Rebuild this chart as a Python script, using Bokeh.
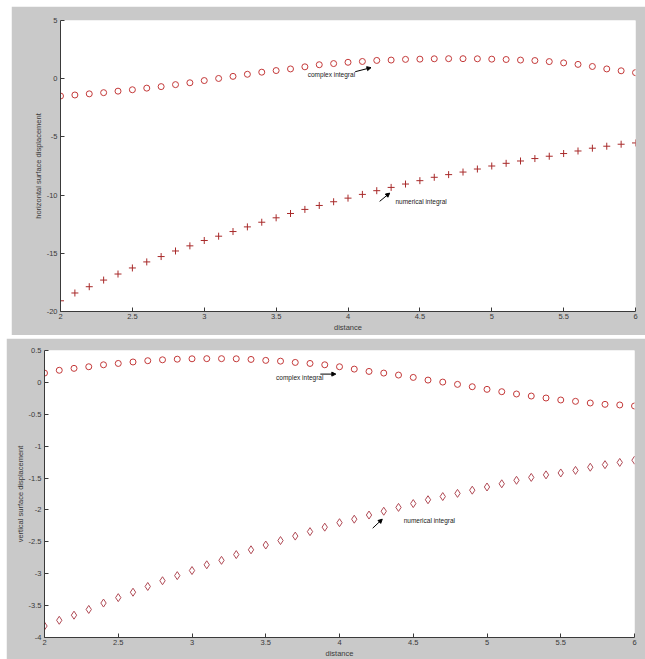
from bokeh.plotting import figure
from bokeh.models import Range1d, FixedTicker, Label, Arrow, NormalHead
from bokeh.embed import file_html
from bokeh.resources import INLINE

# ---------------- data ----------------
distance = [2.0, 2.1, 2.2, 2.3, 2.4, 2.5, 2.6, 2.7, 2.8, 2.9,
            3.0, 3.1, 3.2, 3.3, 3.4, 3.5, 3.6, 3.7, 3.8, 3.9,
            4.0, 4.1, 4.2, 4.3, 4.4, 4.5, 4.6, 4.7, 4.8, 4.9,
            5.0, 5.1, 5.2, 5.3, 5.4, 5.5, 5.6, 5.7, 5.8, 5.9, 6.0]

horiz_complex = [-1.49, -1.40, -1.30, -1.20, -1.07, -0.95, -0.81, -0.68, -0.51, -0.35,
                 -0.16, 0.02, 0.20, 0.38, 0.56, 0.70, 0.84, 1.02, 1.20, 1.30,
                 1.41, 1.48, 1.57, 1.60, 1.66, 1.68, 1.71, 1.72, 1.72, 1.71,
                 1.68, 1.65, 1.60, 1.56, 1.47, 1.36, 1.23, 1.05, 0.84, 0.68, 0.52]

horiz_numerical = [-19.08, -18.41, -17.87, -17.30, -16.78, -16.26, -15.74, -15.28, -14.80, -14.36,
                   -13.90, -13.53, -13.13, -12.73, -12.33, -11.95, -11.58, -11.23, -10.89, -10.57,
                   -10.26, -9.94, -9.62, -9.34, -9.05, -8.76, -8.47, -8.24, -8.02, -7.76,
                   -7.50, -7.27, -7.07, -6.86, -6.66, -6.43, -6.21, -5.97, -5.80, -5.63, -5.52]

vert_complex = [0.146, 0.190, 0.220, 0.245, 0.276, 0.297, 0.320, 0.340, 0.354, 0.364,
                0.370, 0.372, 0.372, 0.370, 0.360, 0.345, 0.333, 0.313, 0.297, 0.276,
                0.245, 0.208, 0.172, 0.146, 0.115, 0.078, 0.036, 0.005, -0.031, -0.068,
                -0.109, -0.146, -0.182, -0.214, -0.245, -0.276, -0.297, -0.323, -0.344, -0.354, -0.370]

vert_numerical = [-3.82, -3.73, -3.65, -3.56, -3.46, -3.375, -3.29, -3.20, -3.11, -3.03,
                  -2.95, -2.86, -2.79, -2.70, -2.625, -2.55, -2.48, -2.41, -2.34, -2.27,
                  -2.20, -2.145, -2.08, -2.02, -1.96, -1.90, -1.84, -1.79, -1.74, -1.69,
                  -1.64, -1.59, -1.535, -1.49, -1.45, -1.42, -1.38, -1.33, -1.29, -1.255, -1.22]

x_ticks = [2, 2.5, 3, 3.5, 4, 4.5, 5, 5.5, 6]
x_tick_labels = ["2", "2.5", "3", "3.5", "4", "4.5", "5", "5.5", "6"]
top_y_ticks = [-20, -15, -10, -5, 0, 5]
top_y_tick_labels = ["-20", "-15", "-10", "-5", "0", "5"]
bot_y_ticks = [-4, -3.5, -3, -2.5, -2, -1.5, -1, -0.5, 0, 0.5]
bot_y_tick_labels = ["-4", "-3.5", "-3", "-2.5", "-2", "-1.5", "-1", "-0.5", "0", "0.5"]

# ---------------- style ----------------
GRAY = "#c9c9c9"
AX = "#3a3a3a"
FONT = "Liberation Sans"
C_CIRCLE = "#c43a3a"
C_PLUS = "#a82a2a"
C_DIAMOND = "#b04a55"


def style(p, xt, xl, yt, yl, ylabel):
    p.background_fill_color = "white"
    p.border_fill_color = GRAY
    p.outline_line_color = None
    p.grid.visible = False
    for ax in (p.xaxis[0], p.yaxis[0]):
        ax.axis_line_color = AX
        ax.major_tick_line_color = AX
        ax.major_tick_in = 4
        ax.major_tick_out = 0
        ax.minor_tick_line_color = None
        ax.major_label_text_font = FONT
        ax.major_label_text_font_size = "7.5px"
        ax.major_label_text_color = AX
        ax.axis_label_text_font = FONT
        ax.axis_label_text_font_size = "7.5px"
        ax.axis_label_text_font_style = "normal"
        ax.axis_label_text_color = AX
    p.xaxis[0].ticker = FixedTicker(ticks=xt)
    p.xaxis[0].major_label_overrides = {t: s for t, s in zip(xt, xl)}
    p.yaxis[0].ticker = FixedTicker(ticks=yt)
    p.yaxis[0].major_label_overrides = {t: s for t, s in zip(yt, yl)}
    p.xaxis[0].axis_label = "distance"
    p.yaxis[0].axis_label = ylabel
    p.xaxis[0].major_label_standoff = 2
    p.xaxis[0].axis_label_standoff = 1
    p.yaxis[0].major_label_standoff = 3
    p.yaxis[0].axis_label_standoff = 1


def annotate(p, text, tx, ty, ax0, ay0, ax1, ay1):
    p.add_layout(Label(x=tx, y=ty, text=text, text_font=FONT, text_font_size="6.5px",
                       text_color="#202020", text_baseline="middle", text_align="left"))
    p.add_layout(Arrow(x_start=ax0, y_start=ay0, x_end=ax1, y_end=ay1,
                       line_color="black", line_width=1,
                       end=NormalHead(size=4, fill_color="black", line_color="black")))


# ---------------- top panel ----------------
p1 = figure(frame_width=575, frame_height=291,
            x_range=Range1d(2, 6), y_range=Range1d(-20, 5),
            output_backend="svg", toolbar_location=None,
            min_border_left=49, min_border_right=10, min_border_top=14, min_border_bottom=24,
            margin=(6, 0, 0, 11))
style(p1, x_ticks, x_tick_labels, top_y_ticks, top_y_tick_labels,
      "horizontal surface displacement")
p1.scatter(distance, horiz_complex, marker="circle", size=6, fill_color=None,
           line_color=C_CIRCLE, line_width=1)
p1.scatter(distance, horiz_numerical, marker="cross", size=7,
           line_color=C_PLUS, line_width=1)
annotate(p1, "complex integral", 3.72, 0.32, 4.05, 0.6, 4.16, 0.95)
annotate(p1, "numerical integral", 4.33, -10.54, 4.22, -10.54, 4.29, -9.83)

# ---------------- bottom panel ----------------
p2 = figure(frame_width=590, frame_height=287,
            x_range=Range1d(2, 6), y_range=Range1d(-4, 0.5),
            output_backend="svg", toolbar_location=None,
            min_border_left=38, min_border_right=11, min_border_top=12, min_border_bottom=20,
            margin=(3, 0, 0, 6))
style(p2, x_ticks, x_tick_labels, bot_y_ticks, bot_y_tick_labels,
      "vertical surface displacement")
p2.scatter(distance, vert_complex, marker="circle", size=6, fill_color=None,
           line_color=C_CIRCLE, line_width=1)
p2.scatter(distance, vert_numerical, marker="diamond", size=8, fill_color=None,
           line_color=C_DIAMOND, line_width=1)
annotate(p2, "complex integral", 3.57, 0.08, 3.87, 0.13, 3.975, 0.13)
annotate(p2, "numerical integral", 4.435, -2.16, 4.225, -2.286, 4.29, -2.145)

open("out.html", "w").write(file_html([p1, p2], INLINE))
